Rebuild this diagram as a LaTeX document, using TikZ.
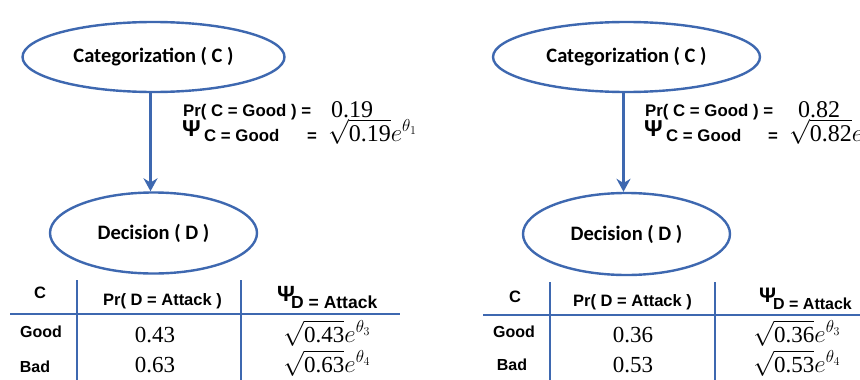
\documentclass[tikz,border=0pt]{standalone}
\usepackage{fontspec}
\setmainfont{Liberation Serif}
\newfontfamily\hv{Liberation Sans}
\newfontfamily\cb{Carlito}
\usetikzlibrary{shapes.geometric,arrows.meta}
\definecolor{myblue}{RGB}{62,104,176}
\tikzset{
  ell/.style={draw=myblue, line width=2.4pt, ellipse, inner sep=0pt,
              font=\cb\bfseries\fontsize{20.5}{24}\selectfont, text=black},
  arr/.style={draw=myblue, line width=3.5pt, -{Stealth[length=13pt,width=14pt]}},
  tline/.style={draw=myblue, line width=2.6pt},
  prtxt/.style={font=\hv\bfseries\fontsize{16.8}{20}\selectfont, inner sep=0pt, anchor=base west},
  psit/.style={font=\hv\bfseries\fontsize{23}{24}\selectfont, inner sep=0pt, anchor=base west},
  hdr/.style={font=\hv\bfseries\fontsize{16.5}{20}\selectfont, inner sep=0pt, anchor=base},
  rowl/.style={font=\hv\bfseries\fontsize{16}{20}\selectfont, inner sep=0pt, anchor=base},
  num/.style={font=\rmfamily\fontsize{23}{28}\selectfont, inner sep=0pt, anchor=base},
  numt/.style={font=\rmfamily\fontsize{24}{28}\selectfont, inner sep=0pt, anchor=base west},
}
\newcommand{\sqv}[2]{$\sqrt{\hbox{#1}}e^{\theta_{#2}}$}
\begin{document}
\begin{tikzpicture}[x=1pt,y=-1pt]
\useasboundingbox (0,0) rectangle (860,380);
\fill[white] (0,0) rectangle (860,380);

% ---------------- left ----------------
\node[ell, minimum width=262pt, minimum height=70pt] (CL) at (153.5,57) {Categorization ( C )};
\node[ell, minimum width=207pt, minimum height=81pt] (DL) at (153.5,233) {Decision ( D )};
\draw[arr] ([xshift=-3pt]CL.south) -- ([xshift=-3pt]DL.north);

\node[prtxt] (prL) at (183,116) {Pr( C = Good ) =};
\node[numt] (vL) at (331,117) {0.19};
\node[psit] (psiL) at (182,136) {Ψ};
\node[prtxt] (psisL) at (204,141) {C = Good};
\node[prtxt] (eqL) at (307,141) {=};
\node[numt] (sqL) at (328,141) {\sqv{0.19}{1}};

% table left
\coordinate (tl1) at (77,280); \coordinate (bl1) at (77,380);
\coordinate (tl2) at (241,280); \coordinate (bl2) at (241,380);
\coordinate (hl1) at (10,314); \coordinate (hl2) at (400,314);
\draw[tline] (tl1) -- (bl1);
\draw[tline] (tl2) -- (bl2);
\draw[tline] (hl1) -- (hl2);
\node[hdr] (hcL) at (40,298) {C};
\node[hdr] (hpL) at (162.5,305) {Pr( D = Attack )};
\node[psit, font=\hv\bfseries\fontsize{22}{24}\selectfont] (hpsiL) at (277,301) {Ψ};
\node[prtxt, font=\hv\bfseries\fontsize{17.5}{20}\selectfont] (hpsisL) at (291,308) {D = Attack};
\node[rowl] (gL) at (41,337) {Good};
\node[rowl] (bL) at (35,372) {Bad};
\node[num] (g1L) at (155,342) {0.43};
\node[num] (b1L) at (155,372) {0.63};
\node[num] (g2L) at (327,342) {\sqv{0.43}{3}};
\node[num] (b2L) at (327,372) {\sqv{0.63}{4}};

% ---------------- right ----------------
\node[ell, minimum width=267pt, minimum height=70pt] (CR) at (626.5,57) {Categorization ( C )};
\node[ell, minimum width=207pt, minimum height=82pt] (DR) at (626.5,234) {Decision ( D )};
\draw[arr] ([xshift=-3pt]CR.south) -- ([xshift=-3pt]DR.north);

\node[prtxt] (prR) at (645,116) {Pr( C = Good ) =};
\node[numt] (vR) at (798,117) {0.82};
\node[psit] (psiR) at (644,136) {Ψ};
\node[prtxt] (psisR) at (666,141) {C = Good};
\node[prtxt] (eqR) at (768,141) {=};
\node[numt] (sqR) at (789,141) {\sqv{0.82}{2}};

% table right
\coordinate (tr1) at (550,282); \coordinate (br1) at (550,380);
\coordinate (tr2) at (715,282); \coordinate (br2) at (715,380);
\coordinate (hr1) at (483,315); \coordinate (hr2) at (860,315);
\draw[tline] (tr1) -- (br1);
\draw[tline] (tr2) -- (br2);
\draw[tline] (hr1) -- (hr2);
\node[hdr] (hcR) at (515,302) {C};
\node[hdr] (hpR) at (632.5,306) {Pr( D = Attack )};
\node[psit, font=\hv\bfseries\fontsize{21}{24}\selectfont] (hpsiR) at (759,302) {Ψ};
\node[prtxt, font=\hv\bfseries\fontsize{16}{20}\selectfont] (hpsisR) at (773,309) {D = Attack};
\node[rowl] (gR) at (514,337) {Good};
\node[rowl] (bR) at (512,370) {Bad};
\node[num] (g1R) at (633,342) {0.36};
\node[num] (b1R) at (633,372) {0.53};
\node[num] (g2R) at (797,342) {\sqv{0.36}{3}};
\node[num] (b2R) at (797,372) {\sqv{0.53}{4}};
\end{tikzpicture}
\end{document}
